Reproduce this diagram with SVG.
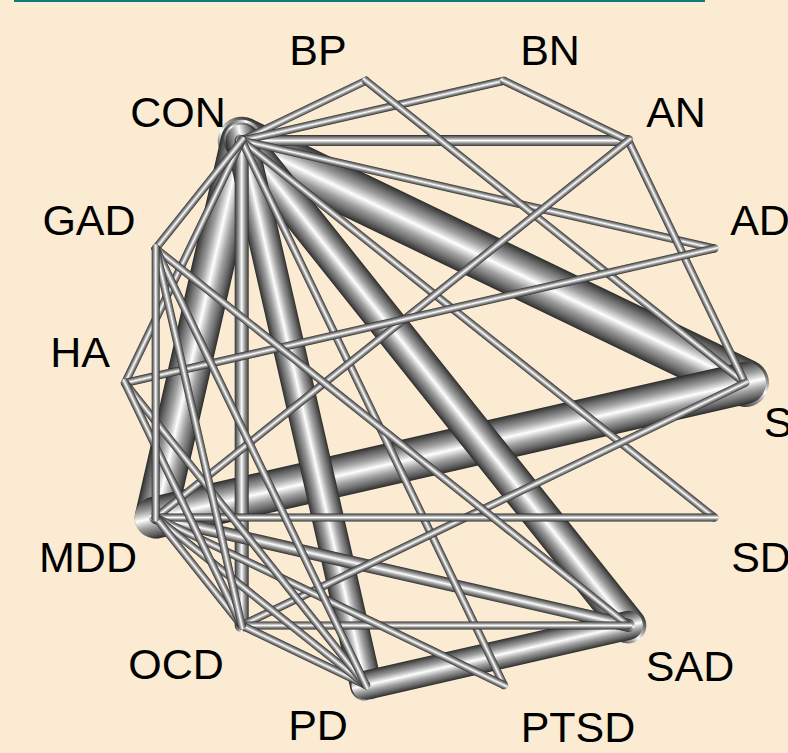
<svg xmlns="http://www.w3.org/2000/svg" width="788" height="753" viewBox="0 0 788 753">
<defs>
<linearGradient id="tube" x1="0" y1="0" x2="0" y2="1">
<stop offset="0" stop-color="#2a2a2a"/>
<stop offset="0.05" stop-color="#444444"/>
<stop offset="0.15" stop-color="#6c6c6c"/>
<stop offset="0.3" stop-color="#a0a0a0"/>
<stop offset="0.44" stop-color="#e0e0e0"/>
<stop offset="0.5" stop-color="#ffffff"/>
<stop offset="0.56" stop-color="#e0e0e0"/>
<stop offset="0.7" stop-color="#a0a0a0"/>
<stop offset="0.85" stop-color="#6c6c6c"/>
<stop offset="0.95" stop-color="#444444"/>
<stop offset="1" stop-color="#2a2a2a"/>
</linearGradient>
</defs>
<style>
#connectors rect{fill:url(#tube)}
text{font-family:"Liberation Sans",Arial,Helvetica,sans-serif;font-size:43px;fill:#000;text-anchor:middle}
</style>
<rect width="788" height="753" fill="#FAEBD2"/>
<line x1="14" y1="1" x2="705" y2="1" stroke="#0c7b7a" stroke-width="2"/>
<g id="connectors">
<rect id="e-CON-S" transform="translate(745 383) rotate(205.714)" x="-24" y="-24" width="606.6" height="48" rx="24"/>
<rect id="e-CON-MDD" transform="translate(155.7 517.5) rotate(282.857)" x="-21" y="-21" width="428.56" height="42" rx="21"/>
<rect id="e-MDD-S" transform="translate(745 383) rotate(167.143)" x="-21" y="-21" width="646.46" height="42" rx="21"/>
<rect id="e-CON-SAD" transform="translate(628.3 625.4) rotate(231.429)" x="-18" y="-18" width="656" height="36" rx="18"/>
<rect id="e-CON-PD" transform="translate(366 685.2) rotate(257.143)" x="-16" y="-16" width="590.6" height="32" rx="16"/>
<rect id="e-PD-SAD" transform="translate(628.3 625.4) rotate(167.143)" x="-14.5" y="-14.5" width="297.99" height="29" rx="14.5"/>
<rect id="e-CON-OCD" transform="translate(241.7 625.4) rotate(270)" x="-7" y="-7" width="498.73" height="14" rx="7"/>
<rect id="e-MDD-SAD" transform="translate(628.3 625.4) rotate(192.857)" x="-6.5" y="-6.5" width="497.73" height="13" rx="6.5"/>
<rect id="e-CON-AN" transform="translate(241.7 140.6) rotate(0)" x="-5.5" y="-5.5" width="397.56" height="11" rx="5.5"/>
<rect id="e-CON-BP" transform="translate(241.7 140.6) rotate(334.286)" x="-4" y="-4" width="145.96" height="8" rx="4"/>
<rect id="e-CON-BN" transform="translate(241.7 140.6) rotate(347.143)" x="-4" y="-4" width="276.99" height="8" rx="4"/>
<rect id="e-CON-AD" transform="translate(241.7 140.6) rotate(12.857)" x="-4" y="-4" width="492.73" height="8" rx="4"/>
<rect id="e-CON-SD" transform="translate(714.3 517.5) rotate(218.571)" x="-4" y="-4" width="612.46" height="8" rx="4"/>
<rect id="e-CON-PTSD" transform="translate(504 685.2) rotate(244.286)" x="-4" y="-4" width="612.46" height="8" rx="4"/>
<rect id="e-CON-HA" transform="translate(125 383) rotate(295.714)" x="-4" y="-4" width="276.99" height="8" rx="4"/>
<rect id="e-CON-GAD" transform="translate(155.7 248.5) rotate(308.571)" x="-4" y="-4" width="145.96" height="8" rx="4"/>
<rect id="e-BP-S" transform="translate(745 383) rotate(218.571)" x="-4" y="-4" width="492.73" height="8" rx="4"/>
<rect id="e-BN-AN" transform="translate(504 80.8) rotate(25.714)" x="-4" y="-4" width="145.96" height="8" rx="4"/>
<rect id="e-AN-S" transform="translate(745 383) rotate(244.286)" x="-4" y="-4" width="276.99" height="8" rx="4"/>
<rect id="e-AN-MDD" transform="translate(155.7 517.5) rotate(321.429)" x="-4" y="-4" width="612.46" height="8" rx="4"/>
<rect id="e-AD-HA" transform="translate(125 383) rotate(347.143)" x="-4" y="-4" width="612.46" height="8" rx="4"/>
<rect id="e-S-OCD" transform="translate(745 383) rotate(154.286)" x="-4" y="-4" width="566.6" height="8" rx="4"/>
<rect id="e-SD-MDD" transform="translate(714.3 517.5) rotate(180)" x="-4" y="-4" width="566.6" height="8" rx="4"/>
<rect id="e-SAD-GAD" transform="translate(628.3 625.4) rotate(218.571)" x="-4" y="-4" width="612.46" height="8" rx="4"/>
<rect id="e-SAD-OCD" transform="translate(628.3 625.4) rotate(180)" x="-4" y="-4" width="394.56" height="8" rx="4"/>
<rect id="e-PTSD-MDD" transform="translate(504 685.2) rotate(205.714)" x="-4" y="-4" width="394.56" height="8" rx="4"/>
<rect id="e-PD-OCD" transform="translate(366 685.2) rotate(205.714)" x="-4" y="-4" width="145.96" height="8" rx="4"/>
<rect id="e-PD-MDD" transform="translate(366 685.2) rotate(218.571)" x="-4" y="-4" width="276.99" height="8" rx="4"/>
<rect id="e-PD-HA" transform="translate(366 685.2) rotate(231.429)" x="-4" y="-4" width="394.56" height="8" rx="4"/>
<rect id="e-PD-GAD" transform="translate(366 685.2) rotate(244.286)" x="-4" y="-4" width="492.73" height="8" rx="4"/>
<rect id="e-OCD-MDD" transform="translate(241.7 625.4) rotate(231.429)" x="-4" y="-4" width="145.96" height="8" rx="4"/>
<rect id="e-OCD-HA" transform="translate(241.7 625.4) rotate(244.286)" x="-4" y="-4" width="276.99" height="8" rx="4"/>
<rect id="e-OCD-GAD" transform="translate(241.7 625.4) rotate(257.143)" x="-4" y="-4" width="394.56" height="8" rx="4"/>
<rect id="e-MDD-GAD" transform="translate(155.7 517.5) rotate(270)" x="-4" y="-4" width="276.99" height="8" rx="4"/>
</g>
<g id="node-BP"><text x="318" y="65">BP</text></g>
<g id="node-BN"><text x="550" y="65">BN</text></g>
<g id="node-AN"><text x="676" y="127">AN</text></g>
<g id="node-AD"><text x="760" y="235">AD</text></g>
<g id="node-S"><text x="778" y="437">S</text></g>
<g id="node-SD"><text x="761" y="572">SD</text></g>
<g id="node-SAD"><text x="690" y="681">SAD</text></g>
<g id="node-PTSD"><text x="578" y="742">PTSD</text></g>
<g id="node-PD"><text x="318" y="740">PD</text></g>
<g id="node-OCD"><text x="176" y="679">OCD</text></g>
<g id="node-MDD"><text x="88" y="572">MDD</text></g>
<g id="node-HA"><text x="80" y="367">HA</text></g>
<g id="node-GAD"><text x="89" y="235">GAD</text></g>
<g id="node-CON"><text x="178" y="127">CON</text></g>
</svg>
